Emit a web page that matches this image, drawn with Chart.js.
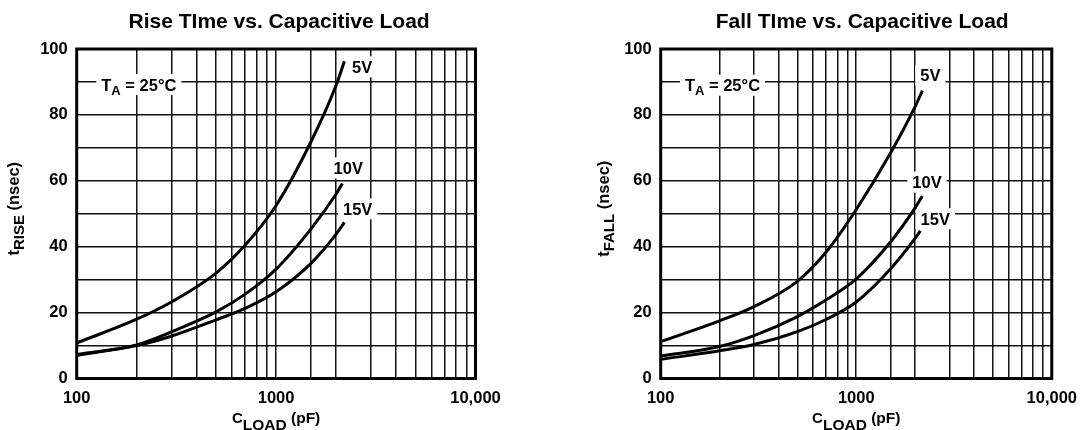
<!DOCTYPE html>
<html>
<head>
<meta charset="utf-8">
<script src="https://cdn.jsdelivr.net/npm/chart.js@4.4.1/dist/chart.umd.min.js"></script>
<style>
  html, body { margin: 0; padding: 0; background: #fff; }
  #wrap { position: relative; width: 1087px; height: 430px; overflow: hidden; }
  .box { position: absolute; top: 0; height: 430px; }
  #riseBox { left: 0; width: 540px; }
  #fallBox { left: 540px; width: 547px; }
</style>
</head>
<body>
<div id="wrap">
  <div class="box" id="riseBox"><canvas id="riseChart" width="540" height="430"></canvas></div>
  <div class="box" id="fallBox"><canvas id="fallChart" width="547" height="430"></canvas></div>
</div>
<script>
// ===== Data (C_LOAD in pF, time in nsec) =====
const riseLoad5V  = [100, 200, 300, 500, 700, 1000, 1500, 2000, 2200];
const riseTime5V  = [10.8, 18, 23.3, 32, 40.5, 52.5, 72, 89, 96.3];
const riseLoad10V = [100, 200, 300, 500, 700, 1000, 1500, 2000, 2150];
const riseTime10V = [7.0, 10.2, 14.2, 20.2, 25.6, 33.2, 45.5, 56, 59.2];
const riseLoad15V = [100, 200, 300, 500, 700, 1000, 1500, 2000, 2200];
const riseTime15V = [7.3, 10.0, 12.9, 17.8, 21.3, 26.3, 35, 43.8, 47.4];

const fallLoad5V  = [100, 200, 300, 500, 700, 1000, 1500, 2000, 2180];
const fallTime5V  = [11.2, 17.5, 21.8, 29.5, 38.3, 51.3, 68.5, 82.5, 87.4];
const fallLoad10V = [100, 200, 300, 500, 700, 1000, 1500, 2000, 2177];
const fallTime10V = [6.8, 9.7, 13.0, 18.8, 23.8, 30.2, 41.5, 51.8, 55.4];
const fallLoad15V = [100, 200, 300, 500, 700, 1000, 1500, 2000, 2130];
const fallTime15V = [5.8, 8.4, 10.3, 14.2, 17.9, 23.2, 33.3, 42.5, 44.8];

const xTickValues = [100, 1000, 10000];
const xTickLabels = ["100", "1000", "10,000"];
const yTickStep = 20;

const FONT = '"Liberation Sans", Arial, Helvetica, sans-serif';

function toPoints(xs, ys) {
  return xs.map((x, i) => ({ x: x, y: ys[i] }));
}

function curve(xs, ys) {
  return {
    data: toPoints(xs, ys),
    borderColor: "#000",
    borderWidth: 3,
    pointRadius: 0,
    fill: false,
    cubicInterpolationMode: "monotone"
  };
}

// ===== Rich text helpers (sub/superscripts) =====
function richWidth(ctx, parts) {
  let w = 0;
  for (const p of parts) {
    ctx.font = "bold " + p.size + "px " + FONT;
    w += ctx.measureText(p.text).width;
  }
  return w;
}

function drawRich(ctx, parts, x, y) {
  let cx = x;
  ctx.textAlign = "left";
  ctx.textBaseline = "alphabetic";
  for (const p of parts) {
    ctx.font = "bold " + p.size + "px " + FONT;
    ctx.fillText(p.text, cx, y + (p.dy || 0));
    cx += ctx.measureText(p.text).width;
  }
}

// Title, axis titles, note labels and plot frame
const decorPlugin = {
  id: "decor",
  beforeDatasetsDraw(chart, args, opts) {
    const ctx = chart.ctx;
    const area = chart.chartArea;
    const xs = chart.scales.x, ys = chart.scales.y;
    ctx.save();

    // note labels on white boxes
    for (const n of opts.notes) {
      const w = richWidth(ctx, n.parts);
      const cx = xs.getPixelForValue(n.x);
      const cy = ys.getPixelForValue(n.y);
      const h = 21;
      ctx.fillStyle = "#fff";
      ctx.fillRect(cx - w / 2 - 5, cy - h / 2, w + 10, h);
      ctx.fillStyle = "#000";
      drawRich(ctx, n.parts, cx - w / 2, cy + 6);
    }

    // frame
    ctx.strokeStyle = "#000";
    ctx.lineWidth = 3;
    ctx.strokeRect(area.left, area.top, area.right - area.left, area.bottom - area.top);
    ctx.restore();
  },
  afterDraw(chart, args, opts) {
    const ctx = chart.ctx;
    const area = chart.chartArea;
    const midX = (area.left + area.right) / 2;
    const midY = (area.top + area.bottom) / 2;
    ctx.save();
    ctx.fillStyle = "#000";

    // chart title
    ctx.font = "bold 21px " + FONT;
    ctx.textAlign = "center";
    ctx.textBaseline = "alphabetic";
    ctx.fillText(opts.title, midX + opts.titleShift, 28);

    // x axis title
    const xw = richWidth(ctx, opts.xTitle);
    drawRich(ctx, opts.xTitle, midX - xw / 2, 423);

    // y axis title (rotated)
    const yw = richWidth(ctx, opts.yTitle);
    ctx.translate(area.left - opts.yTitleGap, midY - 5);
    ctx.rotate(-Math.PI / 2);
    drawRich(ctx, opts.yTitle, -yw / 2, 0);
    ctx.restore();
  }
};

function taNote(x, y) {
  return {
    x: x, y: y,
    parts: [
      { text: "T", size: 16.5 },
      { text: "A", size: 13, dy: 4 },
      { text: " = 25°C", size: 16.5 }
    ]
  };
}

function vNote(text, x, y) {
  return { x: x, y: y, parts: [{ text: text, size: 16.5 }] };
}

function makeChart(canvasId, cfg) {
  return new Chart(document.getElementById(canvasId), {
    type: "line",
    data: { datasets: cfg.datasets },
    options: {
      responsive: false,
      animation: false,
      events: [],
      layout: { padding: { top: 49, right: cfg.padRight, bottom: 0, left: 0 } },
      plugins: {
        legend: { display: false },
        title: { display: false },
        tooltip: { enabled: false },
        decor: {
          title: cfg.title,
          titleShift: cfg.titleShift,
          xTitle: [
            { text: "C", size: 15 },
            { text: "LOAD", size: 15.5, dy: 7 },
            { text: " (pF)", size: 15.5 }
          ],
          yTitle: cfg.yTitle,
          yTitleGap: cfg.yTitleGap,
          notes: cfg.notes
        }
      },
      scales: {
        x: {
          type: "logarithmic",
          min: 100,
          max: 10000,
          afterFit: (s) => { s.height = 51.5; },
          border: { display: false },
          grid: { color: "#111", lineWidth: 1.5, drawTicks: false },
          ticks: {
            autoSkip: false,
            maxRotation: 0,
            padding: 10,
            color: "#000",
            font: { family: FONT, size: 16.5, weight: "bold" },
            callback: (value) => {
              const i = xTickValues.findIndex(v => Math.abs(v - value) < 1e-6 * v);
              return i >= 0 ? xTickLabels[i] : "";
            }
          }
        },
        y: {
          min: 0,
          max: 100,
          afterFit: (s) => { s.width = cfg.axisWidth; },
          border: { display: false },
          grid: { color: "#111", lineWidth: 1.5, drawTicks: false },
          ticks: {
            stepSize: 10,
            padding: 9,
            color: "#000",
            font: { family: FONT, size: 16.5, weight: "bold" },
            callback: (value) => (value % yTickStep === 0 ? String(value) : "")
          }
        }
      }
    },
    plugins: [decorPlugin]
  });
}

makeChart("riseChart", {
  title: "Rise TIme vs. Capacitive Load",
  titleShift: 3,
  axisWidth: 76.7,
  padRight: 64.5,
  yTitleGap: 58,
  yTitle: [
    { text: "t", size: 16.5 },
    { text: "RISE", size: 15, dy: 5 },
    { text: " (nsec)", size: 16.5 }
  ],
  datasets: [
    curve(riseLoad5V, riseTime5V),
    curve(riseLoad10V, riseTime10V),
    curve(riseLoad15V, riseTime15V)
  ],
  notes: [
    taNote(205, 89.2),
    vNote("5V", 2700, 94.6),
    vNote("10V", 2300, 63.9),
    vNote("15V", 2565, 51.5)
  ]
});

makeChart("fallChart", {
  title: "Fall TIme vs. Capacitive Load",
  titleShift: 6,
  axisWidth: 120.7,
  padRight: 27.7,
  yTitleGap: 52,
  yTitle: [
    { text: "t", size: 16.5 },
    { text: "FALL", size: 15, dy: 5 },
    { text: " (nsec)", size: 16.5 }
  ],
  datasets: [
    curve(fallLoad5V, fallTime5V),
    curve(fallLoad10V, fallTime10V),
    curve(fallLoad15V, fallTime15V)
  ],
  notes: [
    taNote(207, 89),
    vNote("5V", 2394, 92),
    vNote("10V", 2300, 59.6),
    vNote("15V", 2537, 48.5)
  ]
});
</script>
</body>
</html>
